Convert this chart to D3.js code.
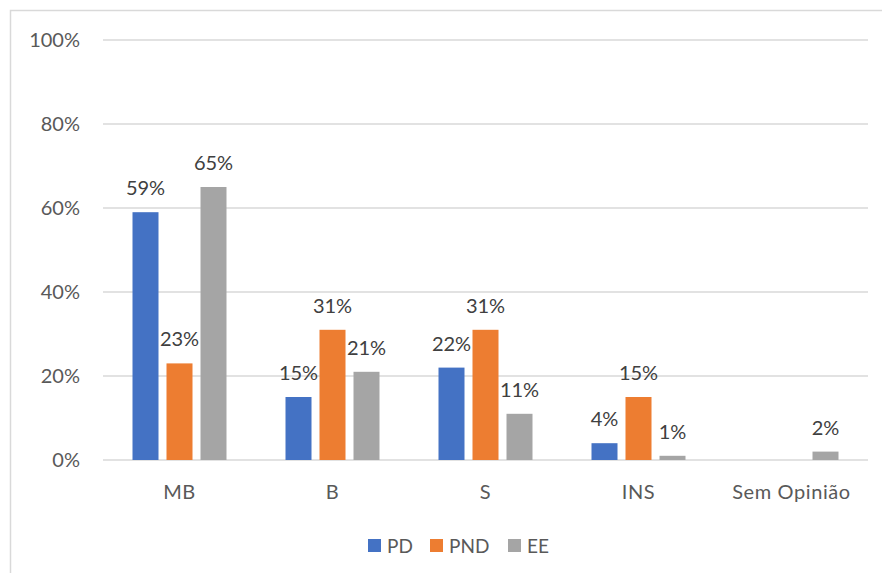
<!DOCTYPE html>
<html><head><meta charset="utf-8">
<script src="https://cdn.jsdelivr.net/npm/d3@7"></script>
<style>body{margin:0;background:#fff;} svg{display:block;font-family:Lato,"Open Sans",sans-serif;}</style>
</head><body><svg id="c" width="882" height="573"></svg>
<script>
const categories = ["MB","B","S","INS","Sem Opinião"];
const seriesNames = ["PD","PND","EE"];
const PD  = [59,15,22,4,null];
const PND = [23,31,31,15,null];
const EE  = [65,21,11,1,2];
const yTicks = [0,20,40,60,80,100];
const colors = ["#4472C4","#ED7D31","#A5A5A5"];
const seriesVals = [PD,PND,EE];

const svg = d3.select("#c");
svg.append("rect").attr("x",10.5).attr("y",10.5).attr("width",890).attr("height",590)
  .attr("fill","none").attr("stroke","#D9D9D9").attr("stroke-width",1.5);

const x0 = d3.scaleBand().domain(categories).range([103,868]);
const y = d3.scaleLinear().domain([0,100]).range([460,40]);
const barW = 26, gap = 8;

const g = svg.append("g");
yTicks.forEach(t=>{
  g.append("line").attr("x1",103).attr("x2",868).attr("y1",y(t)).attr("y2",y(t))
    .attr("stroke","#D9D9D9").attr("stroke-width",1.3);
  g.append("text").attr("x",80).attr("y",y(t)).attr("dy","0.35em").attr("text-anchor","end")
    .attr("font-size",20).attr("fill","#595959").text(t+"%");
});

seriesVals.forEach((vals,si)=>{
  categories.forEach((c,ci)=>{
    const v = vals[ci];
    if(v==null) return;
    const cx = x0(c)+x0.bandwidth()/2;
    const bx = cx - (3*barW+2*gap)/2 + si*(barW+gap);
    g.append("rect").attr("x",bx).attr("y",y(v)).attr("width",barW).attr("height",y(0)-y(v))
      .attr("fill",colors[si]);
    g.append("text").attr("x",bx+barW/2).attr("y",y(v)-17).attr("text-anchor","middle")
      .attr("font-size",20).attr("fill","#404040").text(v+"%");
  });
});

categories.forEach(c=>{
  g.append("text").attr("x",x0(c)+x0.bandwidth()/2).attr("y",499).attr("text-anchor","middle")
    .attr("font-size",20).attr("letter-spacing",0.6).attr("fill","#595959").text(c);
});

const legX = [368,430,508];
seriesNames.forEach((n,i)=>{
  svg.append("rect").attr("x",legX[i]).attr("y",539).attr("width",13).attr("height",13).attr("fill",colors[i]);
  svg.append("text").attr("x",legX[i]+19).attr("y",546).attr("dy","0.35em").attr("font-size",19)
    .attr("fill","#595959").text(n);
});
</script></body></html>
